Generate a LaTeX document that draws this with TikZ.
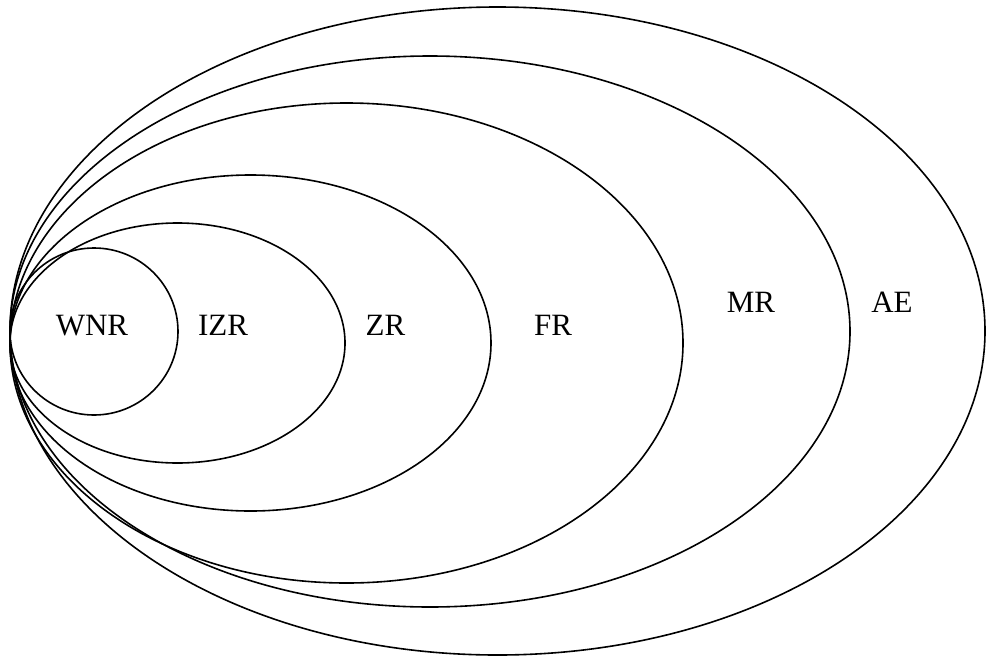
\documentclass[tikz,border=0pt]{standalone}
\usepackage{fontspec}
\setmainfont{Liberation Serif}
\usetikzlibrary{shapes.geometric}

\begin{document}
\begin{tikzpicture}[x=1pt, y=-1pt,
                zone/.style={ellipse,draw,line width=1.6pt,inner sep=0pt},
                zone name/.style={anchor=base,font=\fontsize{31}{36}\selectfont}]
            \useasboundingbox (0,0) rectangle (987,656);

            % Regions
            \node[zone, minimum width=975pt, minimum height=648pt] (AE) at (497.5,331) {};
            \node[zone, minimum width=840pt, minimum height=551pt] (MR) at (430,331.5) {};
            \node[zone, minimum width=673pt, minimum height=480pt] (FR) at (346.5,343) {};
            \node[zone, minimum width=481pt, minimum height=336pt] (ZR) at (250.5,343) {};
            \node[zone, minimum width=335pt, minimum height=240pt] (IZR) at (177.5,343) {};
            \node[zone, minimum width=168pt, minimum height=167pt] (WNR) at (94,331.5) {};

            % Names
            \node[zone name] (wnr name) at (92,335) {WNR};
            \node[zone name] (izr name) at (223,335) {IZR};
            \node[zone name] (zr name) at (385.5,335) {ZR};
            \node[zone name] (fr name) at (553,335) {FR};
            \node[zone name] (mr name) at (751,312) {MR};
            \node[zone name] (ae name) at (892,312) {AE};

        \end{tikzpicture}
\end{document}
